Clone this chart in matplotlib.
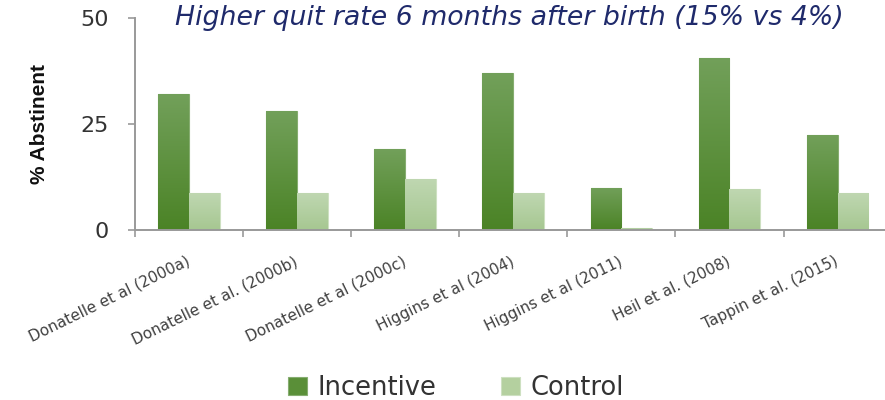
import matplotlib
matplotlib.use("Agg")
import matplotlib.pyplot as plt
import matplotlib.transforms as mtransforms
from matplotlib.colors import LinearSegmentedColormap
import numpy as np

studies = ["Donatelle et al (2000a)", "Donatelle et al. (2000b)", "Donatelle et al (2000c)",
           "Higgins et al (2004)", "Higgins et al (2011)", "Heil et al. (2008)", "Tappin et al. (2015)"]
incentive = [32, 28, 19, 37, 10, 40.6, 22.5]
control = [8.7, 8.7, 12, 8.7, 0.5, 9.6, 8.7]
yticks = [0, 25, 50]

inc_color = "#5a8f38"
ctl_color = "#b4d09f"
inc_cmap = LinearSegmentedColormap.from_list("inc", ["#4b8326", "#72a05a"])
ctl_cmap = LinearSegmentedColormap.from_list("ctl", ["#a6c791", "#bfd7b1"])

fig = plt.figure(figsize=(8.85, 4.0), dpi=100)
ax = fig.add_axes([0.1525, 0.425, 0.855, 0.53])
x = np.arange(len(studies))
w = 0.285
b1 = ax.bar(x - w/2, incentive, w, color=inc_color, label="Incentive", edgecolor="#86ad70", linewidth=0.8)
b2 = ax.bar(x + w/2, control, w, color=ctl_color, label="Control", edgecolor="#cde0c1", linewidth=0.8)

grad = np.linspace(0, 1, 256).reshape(-1, 1)
for bars, cmap in ((b1, inc_cmap), (b2, ctl_cmap)):
    for p in bars:
        bx, by = p.get_x(), p.get_y()
        bw, bh = p.get_width(), p.get_height()
        im = ax.imshow(grad, extent=[bx, bx + bw, by, by + bh], origin="lower",
                       cmap=cmap, aspect="auto", zorder=p.get_zorder() + 0.1)
        im.set_clip_path(p)
ax.set_xlim(-0.5, len(studies) - 0.5)
ax.set_ylim(0, 50)
ax.set_aspect("auto")

ax.set_yticks(yticks)
ax.set_yticklabels([str(v) for v in yticks], fontsize=16, color="#333333", family="DejaVu Sans")
ax.set_xticks(x)
ax.set_xticklabels(studies, rotation=26, ha="right", va="center", rotation_mode="anchor",
                   fontsize=11, color="#404040", family="DejaVu Sans")
offset = mtransforms.ScaledTranslation(5 / 100, 0, fig.dpi_scale_trans)
for lab in ax.get_xticklabels():
    lab.set_transform(lab.get_transform() + offset)
ax.set_xticks(np.arange(len(studies) + 1) - 0.5, minor=True)
ax.tick_params(axis="x", which="major", length=0, pad=22)
ax.tick_params(axis="x", which="minor", length=5, color="#999999", direction="out", width=1.2)
ax.tick_params(axis="y", length=5, color="#999999", direction="out", pad=14, width=1.2)
for s in ["top", "right"]:
    ax.spines[s].set_visible(False)
for s in ["left", "bottom"]:
    ax.spines[s].set_color("#999999")
    ax.spines[s].set_linewidth(1.4)

fig.text(0.045, 0.69, "% Abstinent", rotation=90, ha="center", va="center",
         fontsize=15, fontweight="bold", family="Liberation Sans", color="#111111")

fig.text(0.198, 0.955, "Higher quit rate 6 months after birth (15% vs 4%)",
         fontsize=19.3, style="italic", color="#1f2a6b", family="DejaVu Sans", va="center")

handles, labels = ax.get_legend_handles_labels()
leg = fig.legend(handles, labels, loc="center", bbox_to_anchor=(0.515, 0.03), ncol=2,
                 frameon=False, handlelength=0.75, handleheight=0.75,
                 columnspacing=2.5, handletextpad=0.4, prop={"family": "DejaVu Sans", "size": 18.5})
for t in leg.get_texts():
    t.set_color("#333333")

fig.savefig("out.png", dpi=100)
